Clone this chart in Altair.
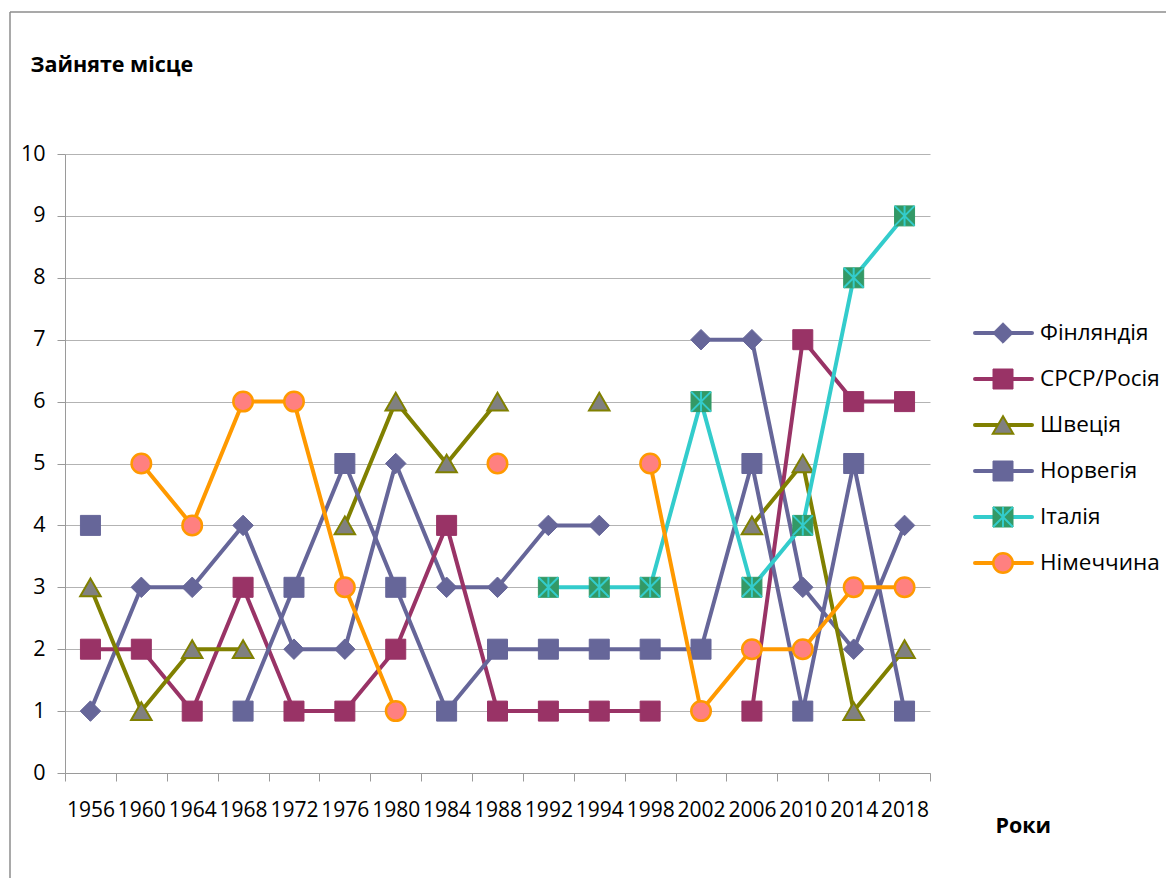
import altair as alt
import pandas as pd

years = ["1956", "1960", "1964", "1968", "1972", "1976", "1980", "1984", "1988",
         "1992", "1994", "1998", "2002", "2006", "2010", "2014", "2018"]
names = ["Фінляндія", "СРСР/Росія", "Швеція", "Норвегія", "Італія", "Німеччина"]

finland = [1, 3, 3, 4, 2, 2, 5, 3, 3, 4, 4, None, 7, 7, 3, 2, 4]
ussr = [2, 2, 1, 3, 1, 1, 2, 4, 1, 1, 1, 1, None, 1, 7, 6, 6]
sweden = [3, 1, 2, 2, None, 4, 6, 5, 6, None, 6, None, None, 4, 5, 1, 2]
norway = [4, None, None, 1, 3, 5, 3, 1, 2, 2, 2, 2, 2, 5, 1, 5, 1]
italy = [None, None, None, None, None, None, None, None, None, 3, 3, 3, 6, 3, 4, 8, 9]
germany = [None, 5, 4, 6, 6, 3, 1, None, 5, None, None, 5, 1, 2, 2, 3, 3]
series_values = [finland, ussr, sweden, norway, italy, germany]

line_colors = ["#666699", "#993366", "#808000", "#666699", "#33CCCC", "#FF9900"]
marker_shapes = ["diamond", "square", "triangle-up", "square", "square", "circle"]
marker_sizes = [420, 400, 420, 400, 400, 380]
marker_fills = ["#666699", "#993366", "#808080", "#666699", "#339966", "#FF8080"]
marker_strokes = ["#666699", "#993366", "#808000", "#666699", "#339966", "#FF9900"]
marker_stroke_w = [1, 1, 2, 1, 1, 2.5]

rows = []
for name, vals in zip(names, series_values):
    seg = 0
    prev = False
    for yr, v in zip(years, vals):
        if v is None:
            prev = False
            continue
        if not prev:
            seg += 1
        prev = True
        rows.append({"name": name, "year": yr, "place": v, "seg": f"{name}-{seg}"})
df = pd.DataFrame(rows)
leg_df = pd.DataFrame({"name": names})

FONT = "Open Sans"

x_enc = alt.X(
    "year:N", sort=years,
    scale=alt.Scale(type="band", domain=years, paddingInner=0, paddingOuter=0),
    axis=alt.Axis(title="Роки", tickBand="extent", labelAngle=0, labelFontSize=21,
                  labelFont=FONT, labelColor="#000000", labelPadding=18, labelOverlap=False,
                  tickSize=8, tickColor="#9A9A9A", domainColor="#9A9A9A", grid=False,
                  titleX=930, titleY=53, titleAlign="left", titleBaseline="middle",
                  titleAngle=0, titleFontSize=21.5, titleFontWeight="bold", titleFont=FONT,
                  titleColor="#000000"))

y_enc = alt.Y(
    "place:Q",
    scale=alt.Scale(domain=[0, 10], nice=False, zero=True),
    axis=alt.Axis(title="Зайняте місце", values=list(range(11)), format="d", grid=True,
                  gridColor="#B3B3B3", tickSize=8, tickColor="#9A9A9A", domainColor="#9A9A9A",
                  labelFontSize=21.5, labelFont=FONT, labelColor="#000000", labelPadding=12,
                  titleX=-35, titleY=-89, titleAngle=0, titleAlign="left",
                  titleBaseline="middle", titleFontSize=21.5, titleFontWeight="bold",
                  titleFont=FONT, titleColor="#000000"))

asterisk = "M-1,-1L1,1M-1,1L1,-1M0,-1L0,1"

main_layers = []
for i, name in enumerate(names):
    base = alt.Chart(df).transform_filter(alt.datum.name == name)
    main_layers.append(
        base.mark_line(color=line_colors[i], strokeWidth=4, strokeJoin="round",
                       strokeCap="round").encode(x=x_enc, y=y_enc, detail="seg:N"))
    main_layers.append(
        base.mark_point(shape=marker_shapes[i], size=marker_sizes[i], filled=True,
                        fill=marker_fills[i], stroke=marker_strokes[i],
                        strokeWidth=marker_stroke_w[i], opacity=1).encode(x=x_enc, y=y_enc))
    if name == "Італія":
        main_layers.append(
            base.mark_point(shape=asterisk, size=400, filled=False, stroke="#33CCCC",
                            strokeWidth=2, opacity=1).encode(x=x_enc, y=y_enc))
main = alt.layer(*main_layers)

leg_y = alt.Y("name:N", sort=names,
              scale=alt.Scale(type="point", domain=names, range=[179, 409], padding=0),
              axis=None)
legend_layers = []
for i, name in enumerate(names):
    lb = alt.Chart(leg_df).transform_filter(alt.datum.name == name)
    legend_layers.append(
        lb.mark_rule(color=line_colors[i], strokeWidth=4, strokeCap="round").encode(
            x=alt.value(910), x2=alt.value(967), y=leg_y))
    legend_layers.append(
        lb.mark_point(shape=marker_shapes[i], size=marker_sizes[i], filled=True,
                      fill=marker_fills[i], stroke=marker_strokes[i],
                      strokeWidth=marker_stroke_w[i], opacity=1).encode(
            x=alt.value(938), y=leg_y))
    if name == "Італія":
        legend_layers.append(
            lb.mark_point(shape=asterisk, size=400, filled=False, stroke="#33CCCC",
                          strokeWidth=2, opacity=1).encode(x=alt.value(938), y=leg_y))
legend_layers.append(
    alt.Chart(leg_df).mark_text(align="left", baseline="middle", fontSize=22.5, font=FONT,
                                color="#000000").encode(x=alt.value(975), y=leg_y,
                                                       text="name:N"))
legend = alt.layer(*legend_layers)

frame_data = alt.Data(values=[{}])
frame_v = alt.Chart(frame_data).mark_rule(color="#8C8C8C", strokeWidth=1.5).encode(
    x=alt.value(-55), y=alt.value(-142), y2=alt.value(760))
frame_h = alt.Chart(frame_data).mark_rule(color="#8C8C8C", strokeWidth=1.5).encode(
    x=alt.value(-55), x2=alt.value(1140), y=alt.value(-142))

chart = alt.layer(main, legend, frame_v, frame_h).resolve_scale(y="independent").properties(
    width=865, height=619,
    padding={"left": 57, "top": 146, "right": 236, "bottom": 105},
    autosize=alt.AutoSizeParams(type="none"),
    background="white",
).configure_view(strokeWidth=0)

chart.save("out.html", embed_options={"renderer": "svg", "actions": False})
